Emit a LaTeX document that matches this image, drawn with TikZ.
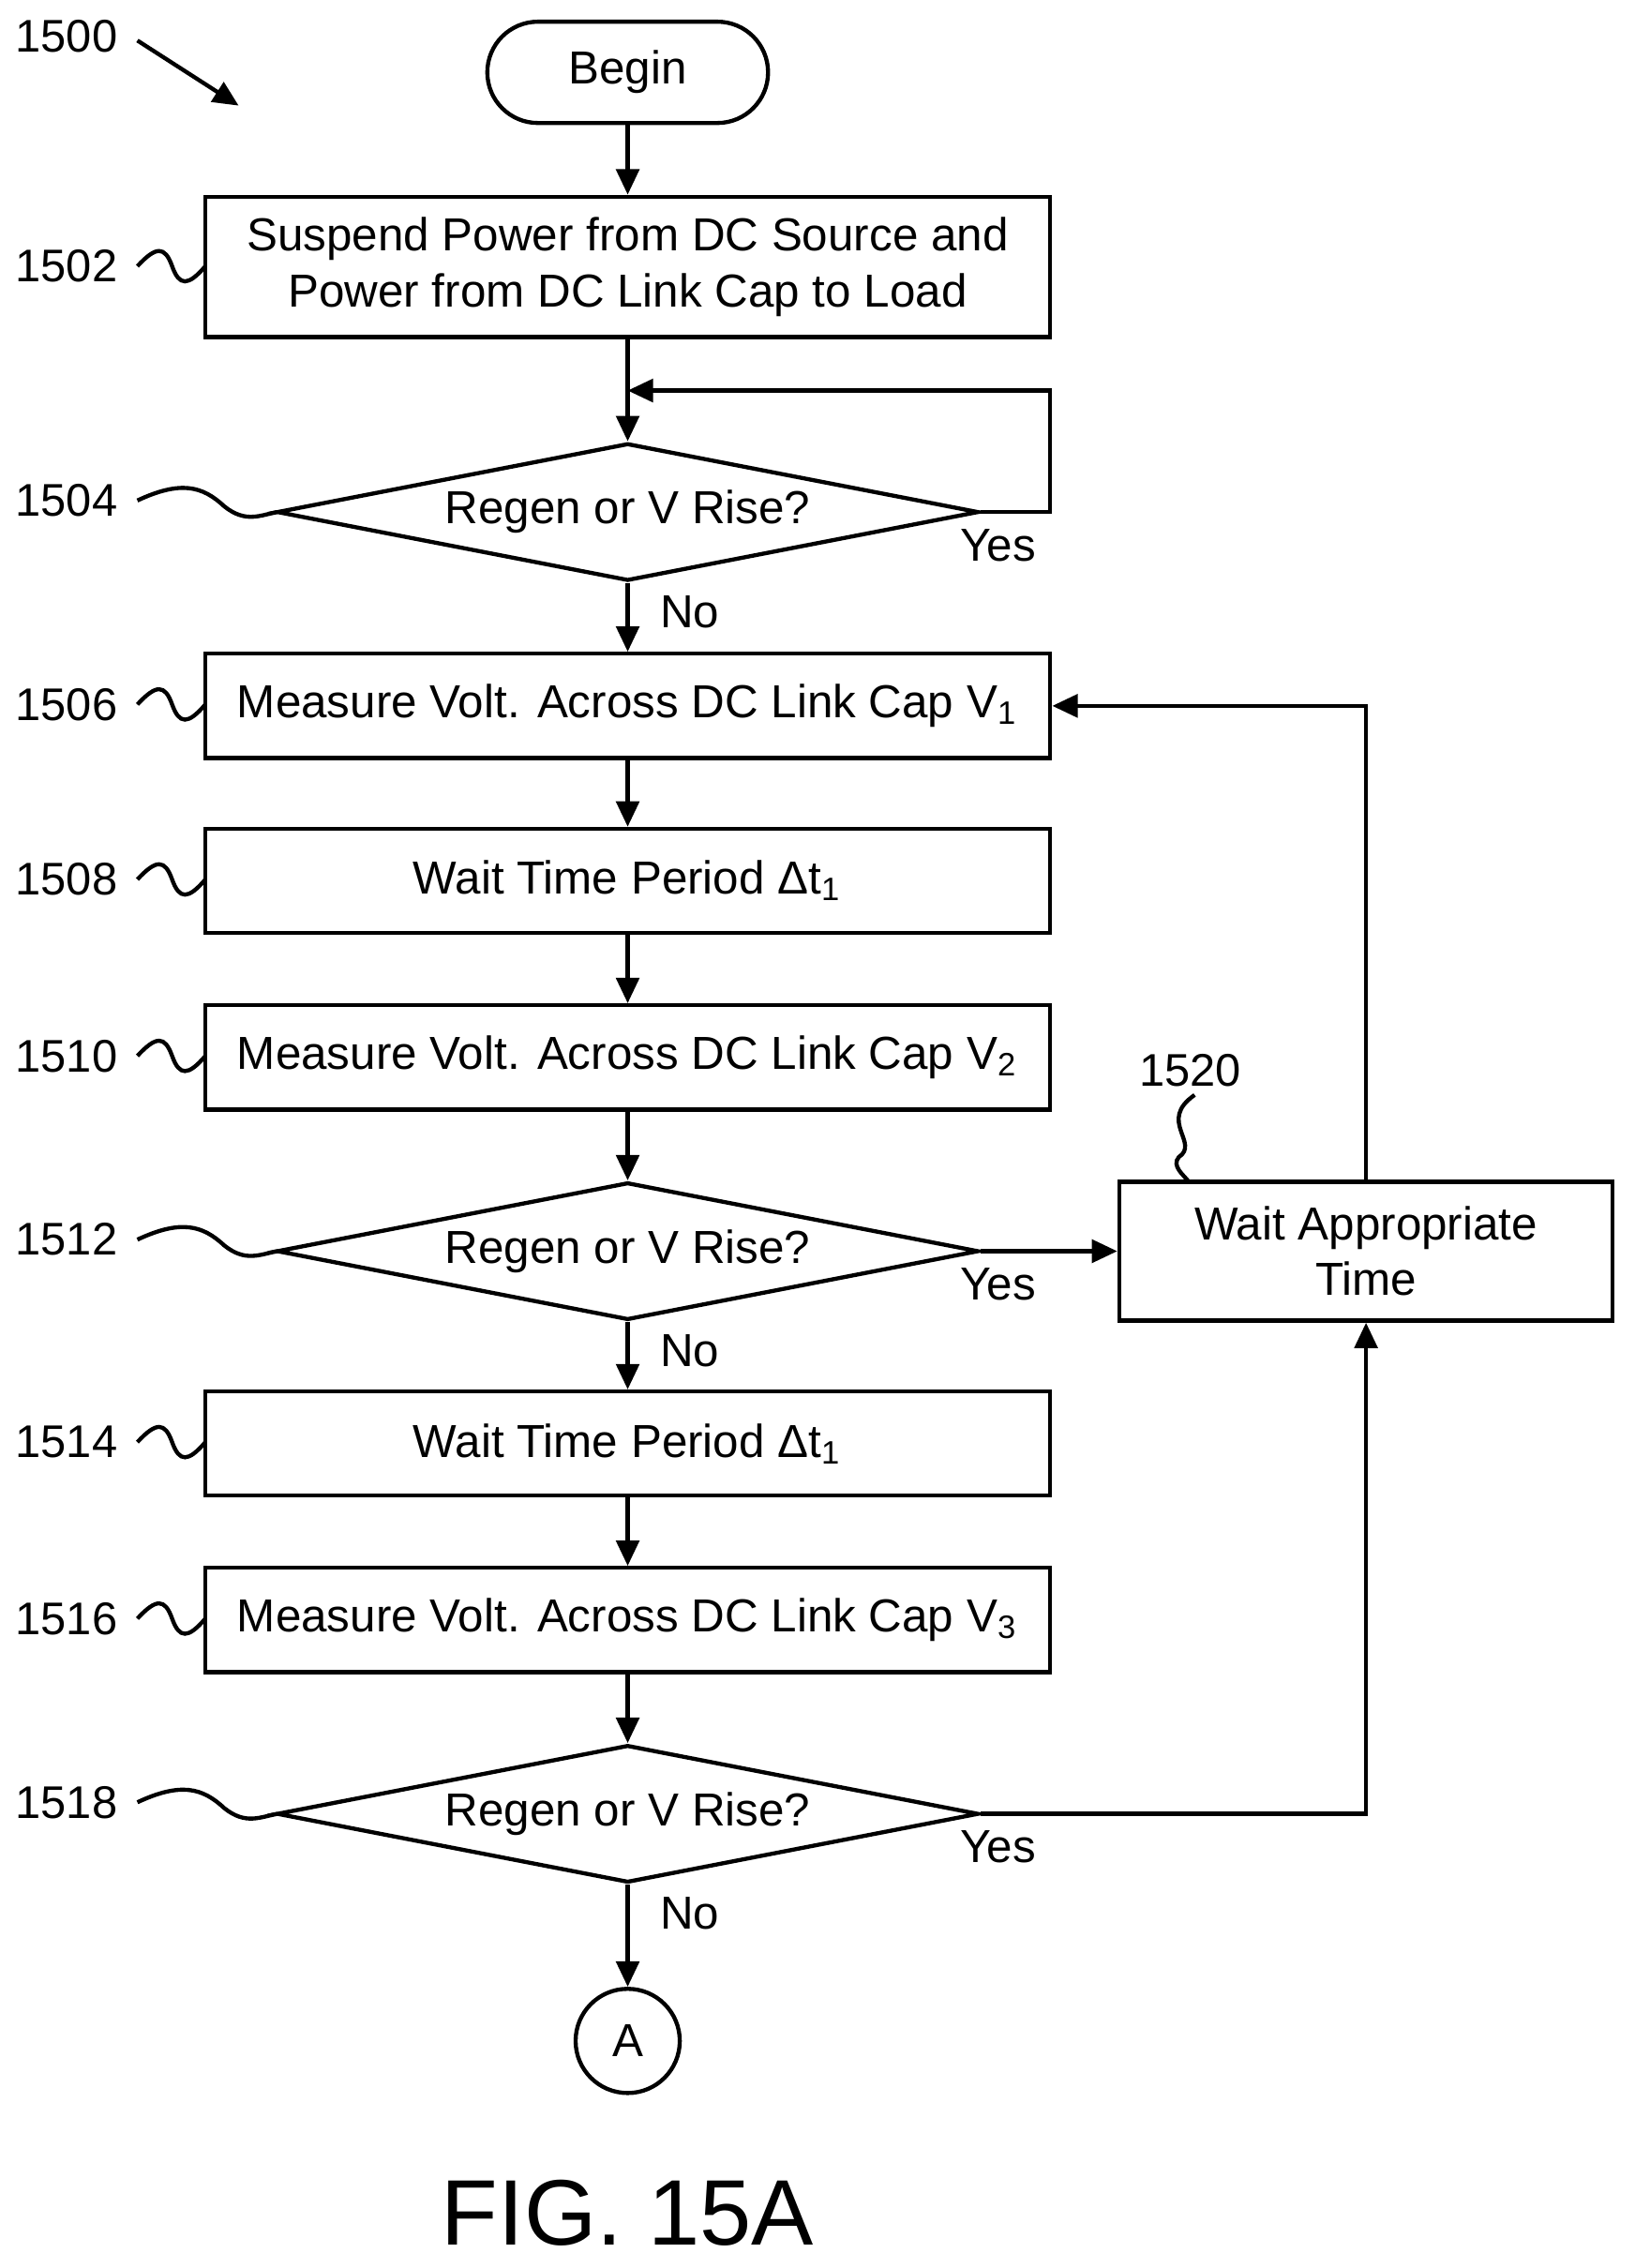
\documentclass[tikz,border=0pt]{standalone}
\usepackage{fontspec}
\setmainfont{Liberation Sans}
\usetikzlibrary{shapes.geometric,arrows.meta}
\begin{document}
\begin{tikzpicture}[x=0.01cm,y=-0.01cm,
  every node/.style={font=\fontsize{9.1}{11}\selectfont},
  line width=0.8pt,
  box/.style={draw,rectangle,minimum width=5.84cm,inner sep=0pt,align=center},
  dia/.style={draw,diamond,minimum width=4.85cm,minimum height=0.95cm,inner sep=0pt,aspect=5.1},
  arr/.style={-{Triangle[length=5pt,width=4.5pt]}},
  lbl/.style={font=\fontsize{9}{11}\selectfont}]
\useasboundingbox (0,0) rectangle (1130,1568);
\node[draw,rounded corners=0.35cm,minimum width=1.94cm,minimum height=0.7cm] (begin) at (434,50) {Begin};
\node[box,minimum height=0.97cm] (n1502) at (434,184.5) {Suspend Power from DC Source and\\Power from DC Link Cap to Load};
\node[dia] (n1504) at (434,354) {Regen or V Rise?};
\node[box,minimum height=0.72cm] (n1506) at (434,488) {Measure Volt. Across DC Link Cap V\textsubscript{1}};
\node[box,minimum height=0.72cm] (n1508) at (434,609) {Wait Time Period Δt\textsubscript{1}};
\node[box,minimum height=0.72cm] (n1510) at (434,731) {Measure Volt. Across DC Link Cap V\textsubscript{2}};
\node[dia] (n1512) at (434,865) {Regen or V Rise?};
\node[box,minimum height=0.72cm] (n1514) at (434,998) {Wait Time Period Δt\textsubscript{1}};
\node[box,minimum height=0.72cm] (n1516) at (434,1120) {Measure Volt. Across DC Link Cap V\textsubscript{3}};
\node[dia] (n1518) at (434,1254) {Regen or V Rise?};
\node[draw,circle,minimum size=0.72cm,inner sep=0pt] (A) at (434,1411) {A};
\node[draw,rectangle,minimum width=3.41cm,minimum height=0.96cm,align=center,inner sep=0pt] (n1520) at (944.5,865) {Wait Appropriate\\Time};

\coordinate (loopin) at (434,270);
\draw[arr] (begin) -- (n1502);
\draw (n1502.south) -- (loopin);
\draw[arr] (loopin) -- (n1504.north);
\draw[arr] (n1504.east) -- (726,354) -- (726,270) -- (loopin);
\draw[arr] (n1504) -- (n1506);
\draw[arr] (n1506) -- (n1508);
\draw[arr] (n1508) -- (n1510);
\draw[arr] (n1510) -- (n1512.north);
\draw[arr] (n1512.south) -- (n1514);
\draw[arr] (n1514) -- (n1516);
\draw[arr] (n1516) -- (n1518.north);
\draw[arr] (n1518.south) -- (A);
\draw[arr] (n1512.east) -- (n1520.west);
\draw[arr] (n1520.north) |- (n1506.east);
\draw[arr] (n1518.east) -| (n1520.south);

\node at (690,377) {Yes};
\node at (477,423) {No};
\node at (690,888) {Yes};
\node at (477,934) {No};
\node at (690,1277) {Yes};
\node at (477,1323) {No};

\node[lbl] (l1500) at (46,25) {1500};
\draw[arr] (95,28) -- (165,73);
\foreach \n/\y in {1502/184,1506/487,1508/608,1510/730,1514/997,1516/1119}{
  \node[lbl] at (46,\y) {\n};
  \draw (95,\y) .. controls (108,\y-14) and (114,\y-14) .. (119,\y) .. controls (124,\y+14) and (130,\y+14) .. (142,\y);
}
\foreach \n/\y in {1504/346,1512/857,1518/1246}{
  \node[lbl] at (46,\y) {\n};
  \draw (95,\y) .. controls (125,\y-14) and (140,\y-10) .. (155,\y+4) .. controls (170,\y+16) and (180,\y+10) .. (192,\y+8);
}
\node[lbl] at (823,740) {1520};
\draw (826,757) .. controls (800,775) and (830,790) .. (815,800) .. controls (810,806) and (818,812) .. (822,817);
\node[font=\fontsize{18.3}{22}\selectfont] at (434,1530) {FIG. 15A};
\end{tikzpicture}
\end{document}
